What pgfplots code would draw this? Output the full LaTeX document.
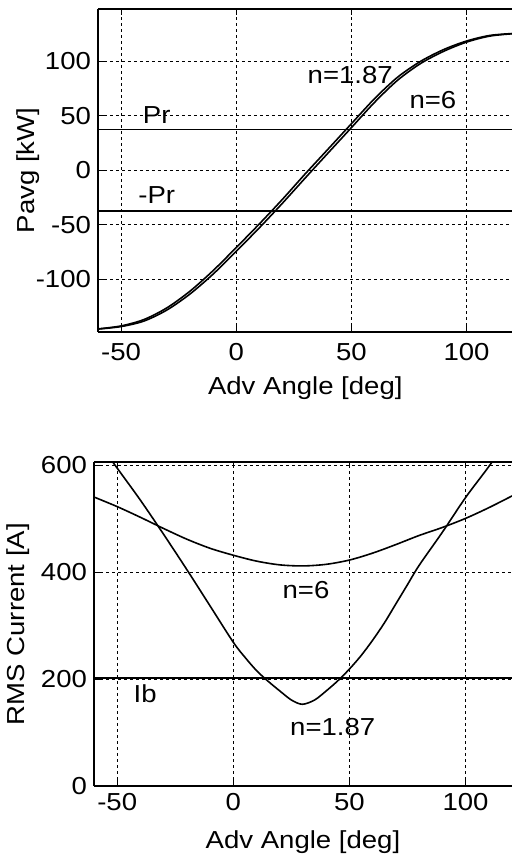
\documentclass[border=0pt]{standalone}
\usepackage{fontspec}
\setmainfont{Liberation Sans}[FakeStretch=1.12]
\usepackage{pgfplots}
\pgfplotsset{compat=1.18}
\tikzset{txt/.style={font=\fontsize{12.3}{14}\selectfont, inner sep=0pt}}
\begin{document}
\begin{tikzpicture}
\pgfplotsset{
  mplot/.style={
    scale only axis, anchor=south west,
    xmin=-60, xmax=120,
    xtick={-50,0,50,100},
    axis y line*=left,
    grid=major,
    major grid style={black, line width=0.45pt, dash pattern=on 1.5pt off 1.5pt},
    tick align=inside, major tick length=3pt,
    axis line style={line width=0.85pt},
    every tick/.style={black, line width=0.5pt},
    ticklabel style={font=\fontsize{12.3}{14}\selectfont},
    label style={font=\fontsize{12.3}{14}\selectfont},
    /pgf/number format/assume math mode=true,
    xlabel={Adv Angle [deg]},
  },
  crv/.style={black, line width=0.8pt, smooth, no markers},
  hl/.style={black, line width=0.8pt},
}
% top: average power
\begin{axis}[mplot, at={(49pt,263.65pt)}, width=207.3pt, height=161.3pt,
  ymin=-148, ymax=148, ytick={-100,-50,0,50,100},
  xticklabel style={yshift=-2.5pt},
  xlabel style={at={(axis description cs:0.5,-0.1745)}, anchor=center},
  ylabel style={at={(axis description cs:-0.169,0.5)}, anchor=center},
  ylabel={Pavg [kW]}]
  \addplot[crv] coordinates {(-60,-145.4) (-50,-142.7) (-40,-136.8) (-30,-126) (-20,-110.7) (-10,-91.9) (0,-70.8) (10,-49.2) (20,-26.7) (30,-3.1) (40,19.8) (50,42.8) (60,65.7) (70,85.4) (80,100) (90,110.8) (100,118.7) (110,123.8) (120,125.6)};
  \addplot[crv] coordinates {(-60,-145.6) (-50,-143.3) (-40,-138.2) (-30,-128) (-20,-113.3) (-10,-95.1) (0,-74.2) (10,-52.8) (20,-30.3) (30,-6.9) (40,16.2) (50,39.2) (60,62.3) (70,82.6) (80,98) (90,109.2) (100,117.7) (110,123.2) (120,125.4)};
  \addplot[hl] coordinates {(-60,37.5) (120,37.5)};
  \addplot[hl] coordinates {(-60,-37.5) (120,-37.5)};
  \node[txt] at (axis cs:49.5,87.2) {n=1.87};
  \node[txt] at (axis cs:85.4,64.9) {n=6};
  \node[txt] at (axis cs:-34.5,50.5) {Pr};
  \node[txt] at (axis cs:-34.5,-22.9) {-Pr};
\end{axis}
% bottom: rms current
\begin{axis}[mplot, at={(47pt,36.5pt)}, width=209pt, height=161.85pt,
  ymin=0, ymax=606, ytick={0,200,400,600},
  xlabel style={at={(axis description cs:0.5,-0.172)}, anchor=center},
  ylabel style={at={(axis description cs:-0.182,0.5)}, anchor=center},
  ylabel={RMS Current [A]}]
  \addplot[crv] coordinates {(-60,541) (-50,523) (-40,503) (-30,482) (-20,462) (-10,445) (0,432) (10,421) (20,414) (30,412) (40,415) (50,423) (60,436) (70,452) (80,469) (90,484) (100,501) (110,521) (120,543)};
  \addplot[crv] coordinates {(-60,655) (-50,595) (-40,535) (-30,471) (-20,405) (-10,337) (0,269) (5,241) (10,216) (15,196) (20,178) (25,161) (29.7,153) (35,161) (40,178) (45,197) (50,219) (55,244) (60,273) (65,305) (70,341) (75,377) (80,413) (90,475) (100,540) (110,598) (120,660)};
  \addplot[hl] coordinates {(-60,202) (120,202)};
  \node[txt] at (axis cs:31.3,367.6) {n=6};
  \node[txt] at (axis cs:42.8,110.9) {n=1.87};
  \node[txt] at (axis cs:-38,173.2) {Ib};
\end{axis}
\pgfresetboundingbox
\path[use as bounding box] (0pt,0pt) rectangle (256pt,429.5pt);
\end{tikzpicture}
\end{document}
